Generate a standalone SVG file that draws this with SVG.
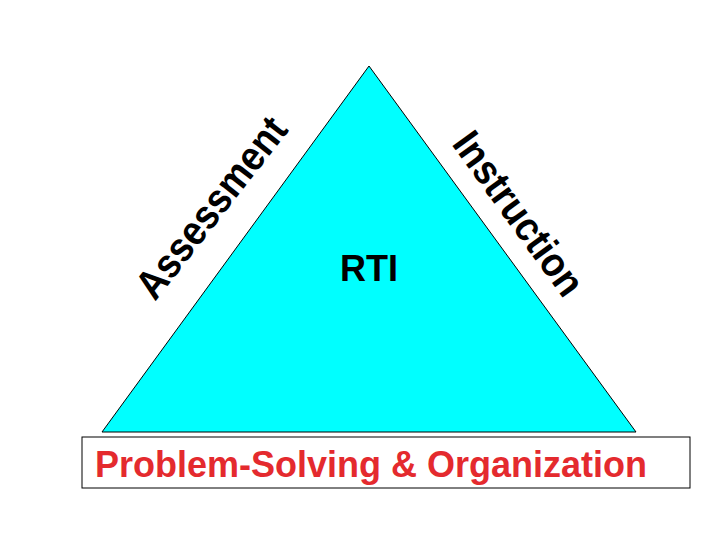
<svg xmlns="http://www.w3.org/2000/svg" width="720" height="540" viewBox="0 0 720 540">
<style>
.lbl{font-family:"Liberation Sans",Arial,sans-serif;font-weight:bold;}
</style>
<rect width="720" height="540" fill="#fff"/>
<g id="triangle">
<polygon points="369,66 102,432 636,432" fill="#00ffff" stroke="#000" stroke-width="1"/>
<text class="lbl" x="369" y="281" font-size="36" text-anchor="middle" fill="#000">RTI</text>
</g>
<g id="assessment">
<text class="lbl" font-size="41" fill="#000" textLength="218" lengthAdjust="spacingAndGlyphs" transform="translate(155,302) rotate(-52)">Assessment</text>
</g>
<g id="instruction">
<text class="lbl" font-size="41" fill="#000" textLength="192" lengthAdjust="spacingAndGlyphs" transform="translate(451,144) rotate(54)">Instruction</text>
</g>
<g id="base">
<rect x="82" y="437" width="608" height="51" fill="#fff" stroke="#000" stroke-width="1"/>
<text class="lbl" x="371" y="477" font-size="36" text-anchor="middle" fill="#e42a2e">Problem-Solving &amp; Organization</text>
</g>
</svg>
